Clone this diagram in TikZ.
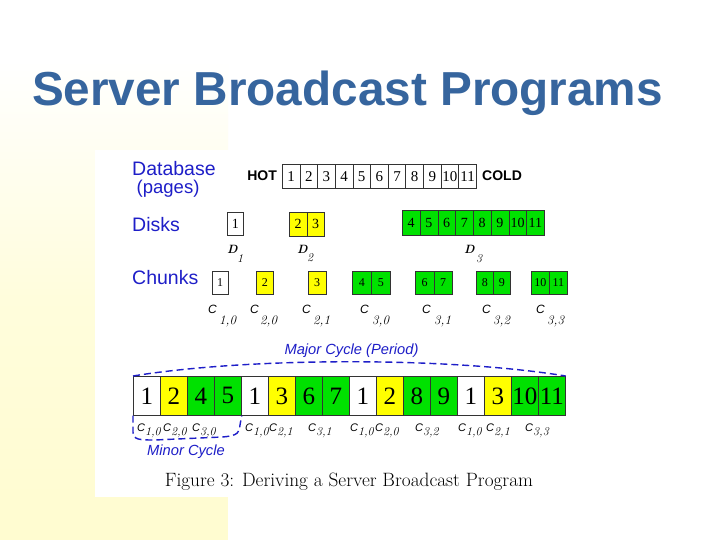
\documentclass[tikz,border=0pt]{standalone}
\usepackage{fontspec}
\newfontfamily\lsans{Liberation Sans}
\newfontfamily\lserif{Liberation Serif}
\definecolor{titleblue}{RGB}{54,101,158}
\definecolor{lblue}{RGB}{30,30,200}
\definecolor{cg}{RGB}{0,225,0}
\definecolor{cy}{RGB}{255,255,0}
\definecolor{bgy}{RGB}{255,252,208}
\newcommand{\fsz}[1]{\fontsize{#1}{#1}\selectfont}
\newcommand{\bclab}[1]{{\lsans\itshape\fsz{11}C}\raisebox{-4pt}{\itshape\fsz{12}#1}}
\begin{document}
\begin{tikzpicture}[x=1pt,y=-1pt,
  cellbase/.style={draw=black!80, line width=0.7pt, inner sep=0pt, anchor=north west},
  dbcell/.style={cellbase, minimum width=17.64pt, minimum height=24pt, font=\lserif\fsz{15}},
  dkcell/.style={cellbase, minimum height=23pt, font=\lserif\fsz{14}},
  chcell/.style={cellbase, minimum height=23pt, font=\lserif\fsz{12}},
  bcell/.style={cellbase, minimum width=27pt, minimum height=39pt, font=\lserif\fsz{25}},
  rowlab/.style={anchor=base west, inner sep=0pt, text=lblue, font=\lsans\fsz{19.5}},
  cyclab/.style={anchor=base, inner sep=0pt, text=lblue, font=\lsans\itshape\fsz{14.7}},
  hc/.style={inner sep=0pt, font=\lsans\bfseries\fsz{14}},
  dlab/.style={anchor=base west, inner sep=0pt, font=\bfseries\itshape\fsz{12}},
  dsub/.style={anchor=base west, inner sep=0pt, font=\itshape\fsz{12}},
  clab/.style={anchor=base west, inner sep=0pt, font=\lsans\itshape\fsz{12}},
  csub/.style={anchor=base west, inner sep=0pt, font=\itshape\fsz{13}},
  blab/.style={anchor=base west, inner sep=0pt},
  cycdash/.style={draw=lblue, line width=1.4pt, dash pattern=on 7pt off 4pt}
]
\useasboundingbox (0,0) rectangle (720,540);
% background
\fill[white] (0,0) rectangle (720,540);
\shade[top color=white, bottom color=bgy, middle color=bgy!75] (0,60) rectangle (228,540);
\fill[white] (95,150) rectangle (720,497);
\fill[white] (228,497) rectangle (720,540);

% title
\node[anchor=base, inner sep=0pt, text=titleblue, font=\lsans\bfseries\fsz{47.7}] (title) at (347.5,106) {Server Broadcast Programs};

% row labels
\node[rowlab] (ldb) at (132,175.5) {Database};
\node[rowlab, font=\lsans\fsz{18.5}] (lpg) at (136.5,193.5) {(pages)};
\node[rowlab] (ldk) at (132,231) {Disks};
\node[rowlab] (lch) at (132,284) {Chunks};

% database
\node[hc, anchor=base east] (hot) at (277,181) {HOT};
\node[hc, anchor=base west] (cold) at (482,181) {COLD};
\foreach \n in {1,...,11}
  \node[dbcell] (db\n) at ({282+(\n-1)*17.64},164) {\n};

% disks
\node[dkcell, minimum width=16pt] (dk1) at (227,212) {1};
\node[dkcell, minimum width=17.5pt, fill=cy] (dk2a) at (289,212.5) {2};
\node[dkcell, minimum width=17.5pt, fill=cy] (dk2b) at (306.5,212.5) {3};
\foreach \n [count=\i] in {4,...,11}
  \node[dkcell, minimum width=17.75pt, minimum height=25pt, fill=cg] (dk3-\i) at ({402+(\i-1)*17.75},210) {\n};
\node[dlab] (d1) at (227,254) {D};
\node[dsub] (d1s) at (237,262) {1};
\node[dlab] (d2) at (297,254) {D};
\node[dsub] (d2s) at (307,261) {2};
\node[dlab] (d3) at (464,254) {D};
\node[dsub] (d3s) at (476,262) {3};

% chunks
\node[chcell, minimum width=15.5pt] (c10) at (212,271) {1};
\node[chcell, minimum width=17pt, fill=cy] (c20) at (256,271) {2};
\node[chcell, minimum width=17.5pt, fill=cy] (c21) at (308,271) {3};
\node[chcell, minimum width=19pt, fill=cg] (c30a) at (352,271) {4};
\node[chcell, minimum width=19pt, fill=cg] (c30b) at (371,271) {5};
\node[chcell, minimum width=18.5pt, fill=cg] (c31a) at (415,271) {6};
\node[chcell, minimum width=18.5pt, fill=cg] (c31b) at (433.5,271) {7};
\node[chcell, minimum width=17pt, fill=cg] (c32a) at (476,271) {8};
\node[chcell, minimum width=17pt, fill=cg] (c32b) at (493,271) {9};
\node[chcell, minimum width=18pt, fill=cg] (c33a) at (531,271) {10};
\node[chcell, minimum width=18pt, fill=cg] (c33b) at (549,271) {11};

\foreach \cx/\sx/\s/\nm in {208/219/{1,0}/a, 250/260/{2,0}/b, 302/313/{2,1}/c, 360/372/{3,0}/d, 422/434/{3,1}/e, 482/493/{3,2}/f, 536/547/{3,3}/g}{
  \node[clab] (cl\nm) at (\cx,313) {C};
  \node[csub] (cs\nm) at (\sx,324) {\s};
}

% broadcast program
\node[cyclab] (major) at (351.5,354) {Major Cycle (Period)};
\foreach \n/\c [count=\i] in {1/white,2/cy,4/cg,5/cg,1/white,3/cy,6/cg,7/cg,1/white,2/cy,8/cg,9/cg,1/white,3/cy,10/cg,11/cg}
  \node[bcell, fill=\c] (bc\i) at ({133+(\i-1)*27},376) {\n};

\foreach \x/\s [count=\i] in {137/{1,0},163/{2,0},192/{3,0},245/{1,0},269/{2,1},308/{3,1},350/{1,0},375/{2,0},415/{3,2},458/{1,0},486/{2,1},525/{3,3}}
  \node[blab] (bl\i) at (\x,431) {\bclab{\s}};

\draw[cycdash] (bc1.north west) .. controls (250,357) and (450,357) .. (bc16.north east);
\draw[cycdash] (bc1.south west) -- (133,432) .. controls (133,440) and (140,440) .. (155,440)
  -- (222,437) .. controls (238,436) and (240,432) .. (240,425) -- (bc4.south east);
\node[cyclab] (minor) at (186,455) {Minor Cycle};

% caption
\node[anchor=base, inner sep=0pt, font=\fsz{19.3}] (caption) at (349,486) {Figure 3: Deriving a Server Broadcast Program};
\end{tikzpicture}
\end{document}
